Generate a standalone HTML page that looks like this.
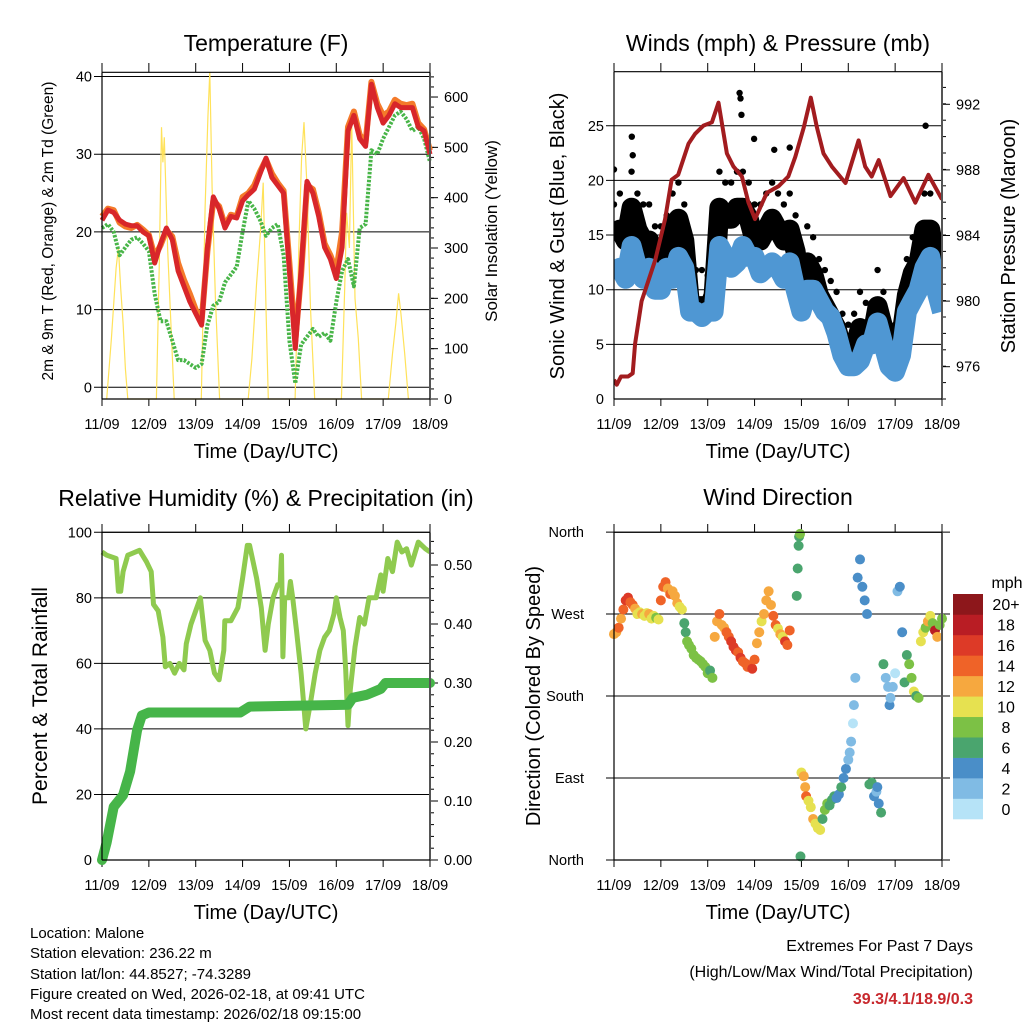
<!DOCTYPE html>
<html><head><meta charset="utf-8"><style>
html,body{margin:0;padding:0;background:#fff}
svg{display:block;font-family:"Liberation Sans",sans-serif}
</style></head><body>
<svg id="fig" xmlns="http://www.w3.org/2000/svg" width="1024" height="1024" viewBox="0 0 1024 1024">
<defs><clipPath id="windclip"><rect x="614" y="71.7" width="328" height="327.3"/></clipPath></defs>
<rect width="1024" height="1024" fill="#fff"/>
<text x="266" y="51" font-size="23" text-anchor="middle">Temperature (F)</text>
<text x="778" y="51" font-size="23" text-anchor="middle">Winds (mph) &amp; Pressure (mb)</text>
<text x="266" y="506" font-size="23" text-anchor="middle">Relative Humidity (%) &amp; Precipitation (in)</text>
<text x="778" y="505" font-size="23" text-anchor="middle">Wind Direction</text>
<text transform="translate(53,231) rotate(-90)" font-size="15.5" text-anchor="middle">2m &amp; 9m T (Red, Orange) &amp; 2m Td (Green)</text>
<text transform="translate(497,231) rotate(-90)" font-size="17" text-anchor="middle">Solar Insolation (Yellow)</text>
<text transform="translate(564,236) rotate(-90)" font-size="20" text-anchor="middle">Sonic Wind &amp; Gust (Blue, Black)</text>
<text transform="translate(1015,236) rotate(-90)" font-size="20" text-anchor="middle">Station Pressure (Maroon)</text>
<text transform="translate(47,696) rotate(-90)" font-size="21" text-anchor="middle">Percent &amp; Total Rainfall</text>
<text transform="translate(540,696) rotate(-90)" font-size="20" text-anchor="middle">Direction (Colored By Speed)</text>
<g font-size="15">
<text x="30" y="938">Location: Malone</text>
<text x="30" y="958">Station elevation: 236.22 m</text>
<text x="30" y="979">Station lat/lon: 44.8527; -74.3289</text>
<text x="30" y="999">Figure created on Wed, 2026-02-18, at 09:41 UTC</text>
<text x="30" y="1019">Most recent data timestamp: 2026/02/18 09:15:00</text>
</g>
<g font-size="16" text-anchor="end">
<text x="973" y="951">Extremes For Past 7 Days</text>
<text x="973" y="977">(High/Low/Max Wind/Total Precipitation)</text>
<text x="973" y="1004" fill="#c8282d" font-weight="bold">39.3/4.1/18.9/0.3</text>
</g>
</svg>
<script>
// ---- data ----
const dayLabels = ["11/09","12/09","13/09","14/09","15/09","16/09","17/09","18/09"];
const t3 = [0,0.125,0.25,0.375,0.5,0.625,0.75,0.875,1,1.125,1.25,1.375,1.5,1.625,1.75,1.875,2,2.125,2.25,2.375,2.5,2.625,2.75,2.875,3,3.125,3.25,3.375,3.5,3.625,3.75,3.875,4,4.125,4.25,4.375,4.5,4.625,4.75,4.875,5,5.125,5.25,5.375,5.5,5.625,5.75,5.875,6,6.125,6.25,6.375,6.5,6.625,6.75,6.875,7];
const temp2m = [21.5,22.8,22.5,21.5,21,20.8,20.8,20,19.5,16,18.5,20.5,19,15,13,11,9.5,8,18,24.5,23,20.5,22,21.8,24,24.8,25.5,27.5,29.5,27,26,25,15,5,15,26.5,25,22,18,16.5,14,18,33,35,32,31,39,36,34,35,36.5,36,36,36,33.5,33,30];
const temp9m = [22,23,22.8,21.2,20.7,20.5,20.9,20.3,19.6,16.8,18.3,20.2,19.4,16,13.8,12,10,8.5,17.5,24,23.3,20.8,22.2,22,24.5,25,26,27.8,29.3,27.5,26.3,25.3,16,6,14.5,26,25.5,22.5,18.5,17,15,20,33.5,35.5,32.5,31.5,39.3,36.5,35,35.5,37,36.5,36.3,36.5,34,33.2,30.5];
const dew2m = [20.5,21,20,17,18,19,19.3,18.5,17.5,12,8.5,8.5,6,3.5,3.5,3,2.5,3,8,10.5,11,13.5,14.5,15.5,20,24,23,21.5,19.5,20.5,21,17,6,0.5,5.5,6.5,7.5,6.5,7,6,11,15,16.5,13,20.5,21,30.5,30,32,33.5,35,35.5,34.5,33,33.5,32,29];
const solarTime = [0.1,0.2,0.3,0.35,0.4,0.45,0.5,0.55, 1.16,1.22,1.27,1.3,1.33,1.4,1.47,1.54, 2.12,2.2,2.26,2.3,2.35,2.42,2.51, 3.12,3.2,3.3,3.38,3.44,3.5,3.55, 4.12,4.2,4.26,4.31,4.37,4.45,4.54, 5.11,5.18,5.22,5.28,5.33,5.4,5.47,5.54, 6.11,6.2,6.27,6.33,6.38,6.46,6.54];
const solarVal = [0,120,260,300,220,150,60,0, 0,260,540,470,520,300,150,0, 0,380,560,650,420,200,0, 0,80,230,330,430,180,0, 0,300,480,550,430,180,0, 0,220,370,300,550,200,120,0, 0,90,150,210,170,90,0];
const windSpd = [11,12,11,14,12,11,12,10,10,12,11,13,12,8,8,7.5,8,8,14,13,12,12.5,14,13,13,11.5,12,12.5,12,11,12.5,10,8,10,10,9,8,7.5,6,4,3,3,3.5,5,5,7,5,3,2.5,4,8,9,10,12,13,10,8];
const gustSpd = [16,17,16,19,17,16,16,14,14,15,17,18,16,10,10,10,9.5,11,19,18,18,19,19,18,16,16,17,18,17,16,17,15,11,14,13,11,10,9,8,6,5,6,8,7,7,10,8,5,5,7,11,13,14,17,17,14,11];
const peakGustTime = [0,0.38,0.4,2.68,2.7,2.72,2.99,3.42,3.75,6.65];
const peakGust = [21,24,22.3,28,27.5,26,23.8,22.8,23,25];
const presTime = [0,0.06,0.15,0.3,0.4,0.45,0.59,0.88,1.09,1.23,1.37,1.59,1.73,1.91,2.09,2.23,2.41,2.55,2.73,2.87,3.01,3.26,3.51,3.72,3.87,4.05,4.2,4.33,4.47,4.65,4.94,5.22,5.36,5.5,5.65,5.9,6.18,6.43,6.71,7];
const presVal = [975.2,974.9,975.4,975.4,975.6,977.4,980,982.5,985,987.4,987.7,989.6,990.2,990.7,990.9,992.1,989,988.2,987.6,986,985,986.6,987,987.6,988.8,990.6,992.4,990.6,989,988.2,987.2,989.8,988.2,987.6,988.6,986.4,987.5,986,987.7,986.2];
const rhTime = [0,0.1,0.3,0.35,0.4,0.45,0.55,0.8,0.95,1.05,1.1,1.2,1.3,1.35,1.45,1.55,1.65,1.75,1.8,1.9,2,2.1,2.2,2.3,2.4,2.5,2.6,2.62,2.75,2.9,3,3.1,3.15,3.3,3.4,3.48,3.55,3.65,3.75,3.8,3.83,3.86,3.9,3.98,4.02,4.07,4.15,4.25,4.35,4.45,4.55,4.65,4.75,4.85,4.95,5,5.08,5.15,5.2,5.25,5.3,5.4,5.5,5.6,5.7,5.85,5.95,6,6.1,6.2,6.3,6.4,6.5,6.6,6.75,6.9,7];
const rhVal = [94,93,92,82,82,88,93,94.5,91,88,78,76,68,59,60,57,60,58,66,72,76,80,67,64,57,55,64,73,73,77,86,96,96,86,77,64,72,80,84,84,93,62,80,80,85,80,70,57,40,48,57,64,68,70,75,80,74,70,58,41,52,65,74,72,80,80,87,82,92,88,97,94,95,90,97,95,94];
const rainTime = [0,0.1,0.25,0.45,0.6,0.75,0.85,1,2.95,3.15,5.25,5.35,5.65,5.95,6.05,7];
const rainVal = [0,0.03,0.09,0.11,0.15,0.22,0.245,0.25,0.25,0.26,0.263,0.275,0.28,0.29,0.3,0.3];
const dirTime = [0.0,0.05,0.1,0.15,0.2,0.25,0.3,0.35,0.4,0.45,0.5,0.55,0.6,0.65,0.7,0.75,0.8,0.85,0.9,0.95,1.0,1.05,1.1,1.15,1.2,1.25,1.3,1.35,1.4,1.45,1.5,1.53,1.56,1.6,1.65,1.7,1.75,1.8,1.85,1.9,1.95,2.0,2.05,2.1,2.15,2.2,2.25,2.3,2.35,2.4,2.45,2.5,2.55,2.6,2.65,2.7,2.75,2.8,2.85,2.9,2.95,3.0,3.05,3.1,3.15,3.2,3.25,3.3,3.35,3.4,3.45,3.5,3.55,3.6,3.65,3.7,3.75,3.9,3.92,3.94,3.95,3.97,3.98,4.0,4.05,4.08,4.1,4.15,4.2,4.25,4.3,4.35,4.4,4.45,4.5,4.55,4.6,4.65,4.7,4.75,4.8,4.85,4.9,4.95,5.0,5.03,5.06,5.1,5.12,5.15,5.2,5.25,5.3,5.35,5.4,5.45,5.5,5.55,5.6,5.62,5.65,5.7,5.75,5.8,5.85,5.88,5.9,5.95,6.0,6.05,6.1,6.15,6.2,6.25,6.3,6.35,6.4,6.45,6.5,6.55,6.6,6.65,6.7,6.75,6.8,6.85,6.9,6.95,7.0];
const dirDeg = [248,250,255,265,275,285,288,283,280,276,270,272,270,268,271,270,265,268,266,264,285,300,305,298,292,295,290,282,278,275,260,250,240,236,232,225,222,220,218,215,212,205,208,200,245,262,270,258,255,250,245,240,234,230,228,222,218,216,212,214,210,220,238,250,262,270,285,295,280,268,258,254,248,245,240,236,252,290,320,345,355,358,4,96,92,80,70,65,58,45,40,35,33,45,55,62,60,66,70,68,72,80,90,100,110,118,130,150,170,200,310,330,300,285,270,83,85,70,75,80,62,52,215,200,190,170,178,190,205,295,300,250,195,225,215,200,185,180,178,240,250,255,262,268,260,252,245,258,265,262,258,252,248,255];
const dirSpd = [12,12,14,13,15,16,16,14,15,13,11,10,12,11,11,13,10,10,9,10,14,15,14,13,14,12,13,12,11,10,7,7,8,8,8,8,8,8,8,8,8,8,7,8,12,13,14,12,13,15,14,16,17,16,15,16,14,15,15,14,16,15,13,12,11,12,12,12,13,14,15,10,13,11,16,15,14,7,7,6,7,9,6,11,13,12,14,10,11,12,10,11,10,7,8,8,7,7,6,5,5,6,4,5,3,2,2,1,2,3,4,5,4,5,4,6,6,5,3,5,5,6,7,3,3,4,2,3,1,3,4,4,6,7,8,9,11,7,9,10,11,8,12,10,9,19,12,8,9,10,11,7];
const binLabels = ["0","2","4","6","8","10","12","14","16","18","20+"];
const binColors = ["#b6e3f7","#80bbe4","#4a8ec8","#4aa56e","#7cc145","#e6e150","#f6a83f","#ef6328","#dd3a27","#b91d24","#8d171b"];

// ---- helpers ----
const NS = "http://www.w3.org/2000/svg";
const svg = document.getElementById("fig");
function mk(tag, attrs, parent) {
  const e = document.createElementNS(NS, tag);
  for (const k in attrs) e.setAttribute(k, attrs[k]);
  (parent || svg).appendChild(e);
  return e;
}
function pathOf(ts, vs, fx, fy) {
  return ts.map((t, i) => (i ? "L" : "M") + fx(t).toFixed(1) + "," + fy(vs[i]).toFixed(1)).join("");
}
function axisX(x0, x1) { return d => x0 + d / 7 * (x1 - x0); }

function frame(x0, x1, top, bot, name, tickTop) {
  const g = mk("g", {});
  
  
  const fx = axisX(x0, x1);
  for (let d = 0; d <= 7; d++) {
    const x = fx(d);
    mk("line", {x1: x, x2: x, y1: bot, y2: bot + 7, stroke: "#000", "stroke-width": 1}, g);
    mk("line", {x1: x, x2: x, y1: top, y2: tickTop, stroke: "#000", "stroke-width": 1}, g);
    const tl = mk("text", {x: x, y: bot + 30, "font-size": 14.5, "text-anchor": "middle"}, g);
    tl.textContent = dayLabels[d];
    
    
  }
  const xt = mk("text", {x: (x0 + x1) / 2, y: bot + 59, "font-size": 20, "text-anchor": "middle"}, g);
  xt.textContent = "Time (Day/UTC)";
  
  
  return {g, fx};
}
function hgrid(g, y, x0, x1) {
  mk("line", {x1: x0 - 8, x2: x1, y1: y, y2: y, stroke: "#000", "stroke-width": 1}, g);
}
function ylab(g, x, y, txt, anchor) {
  const t = mk("text", {x: x, y: y + 5, "font-size": 14.5, "text-anchor": anchor}, g);
  t.textContent = txt;
  
  
}
function boxLines(g, x0, x1, top, bot) {
  mk("line", {x1: x0, x2: x0, y1: top, y2: bot, stroke: "#000", "stroke-width": 1.2}, g);
  mk("line", {x1: x1, x2: x1, y1: top, y2: bot, stroke: "#555", "stroke-width": 2}, g);
  mk("line", {x1: x0, x2: x1, y1: top, y2: top, stroke: "#000", "stroke-width": 1.2}, g);
  mk("line", {x1: x0, x2: x1, y1: bot, y2: bot, stroke: "#000", "stroke-width": 1.2}, g);
}
function rticks(g, x1, top, bot, step) {
  for (let y = bot; y >= top; y -= step) mk("line", {x1: x1, x2: x1 + 4, y1: y, y2: y, stroke: "#000", "stroke-width": 1}, g);
}

// ---- Panel 1: Temperature ----
(function () {
  const L = 102, R = 430, T = 72.3, B = 399;
  const {g, fx} = frame(L, R, T, B, "temperature-panel", 63);
  const ty = v => 387.3 - v * 7.77;
  const sy = v => 399 - v * 0.5033;
  [0, 10, 20, 30, 40].forEach(v => { hgrid(g, ty(v), L, R); ylab(g, L - 10, ty(v), String(v), "end"); });
  [0, 100, 200, 300, 400, 500, 600].forEach(v => { mk("line", {x1: R, x2: R + 8, y1: sy(v), y2: sy(v), stroke: "#000"}, g); ylab(g, R + 14, sy(v), String(v), "start"); });
  rticks(g, R, T, B, 0.5033 * 20);
  const sol = mk("path", {d: pathOf(solarTime, solarVal, fx, sy), fill: "none", stroke: "#ffe25a", "stroke-width": 1.2}, g);
  
  
  const dw = mk("path", {d: pathOf(t3, dew2m, fx, ty), fill: "none", stroke: "#48b548", "stroke-width": 4, "stroke-dasharray": "2.5 1.5", "stroke-linejoin": "round"}, g);
  
  
  const t9 = mk("path", {d: pathOf(t3, temp9m, fx, ty), fill: "none", stroke: "#f47a2a", "stroke-width": 6, "stroke-linejoin": "round"}, g);
  
  
  const t2 = mk("path", {d: pathOf(t3, temp2m, fx, ty), fill: "none", stroke: "#d8262a", "stroke-width": 5, "stroke-linejoin": "round"}, g);
  
  
  boxLines(g, L, R, T, B);
})();

// ---- Panel 2: Winds & Pressure ----
(function () {
  const L = 614, R = 942, T = 71.7, B = 399;
  const {g, fx} = frame(L, R, T, B, "winds-panel", 63);
  const wy = v => 399 - v * 10.93;
  const py = p => 366.7 - (p - 976) * 16.4;
  [5, 10, 15, 20, 25].forEach(v => hgrid(g, wy(v), L, R));
  [0, 5, 10, 15, 20, 25].forEach(v => ylab(g, L - 10, wy(v), String(v), "end"));
  [976, 980, 984, 988, 992].forEach(v => { mk("line", {x1: R, x2: R + 8, y1: py(v), y2: py(v), stroke: "#000"}, g); ylab(g, R + 14, py(v), String(v), "start"); });
  rticks(g, R, T, B, 16.4);
  const cg = mk("g", {"clip-path": "url(#windclip)"}, g);
  
  
  const gl = mk("path", {d: pathOf(t3, gustSpd, fx, v => wy(v - 1.5)), fill: "none", stroke: "#000", "stroke-width": 20, "stroke-linejoin": "round"}, cg);
  
  
  t3.forEach((t, i) => {
    const c = mk("circle", {cx: fx(t), cy: wy(gustSpd[i] + 1.8), r: 3.2, fill: "#000"}, cg);
    
    
  });
  peakGustTime.forEach((t, i) => {
    const c = mk("circle", {cx: fx(t), cy: wy(peakGust[i]), r: 3.2, fill: "#000"}, cg);
    
    
  });
  const wl = mk("path", {d: pathOf(t3, windSpd, fx, wy), fill: "none", stroke: "#4f97d3", "stroke-width": 20, "stroke-linejoin": "round"}, cg);
  
  
  const pl = mk("path", {d: pathOf(presTime, presVal, fx, py), fill: "none", stroke: "#a21c1f", "stroke-width": 4, "stroke-linejoin": "round"}, cg);
  
  
  boxLines(g, L, R, T, B);
})();

// ---- Panel 3: RH & Precip ----
(function () {
  const L = 102, R = 430, T = 532.3, B = 860;
  const {g, fx} = frame(L, R, T, B, "humidity-panel", 524);
  const hy = v => 860 - v * 3.277;
  const ry = v => 860 - v * 590;
  [20, 40, 60, 80, 100].forEach(v => hgrid(g, hy(v), L, R));
  [0, 20, 40, 60, 80, 100].forEach(v => ylab(g, L - 10, hy(v), String(v), "end"));
  [0, 0.1, 0.2, 0.3, 0.4, 0.5].forEach(v => { mk("line", {x1: R, x2: R + 8, y1: ry(v), y2: ry(v), stroke: "#000"}, g); ylab(g, R + 14, ry(v), v.toFixed(2), "start"); });
  rticks(g, R, T, B, 11.8);
  const rh = mk("path", {d: pathOf(rhTime, rhVal, fx, hy), fill: "none", stroke: "#8fca4f", "stroke-width": 5, "stroke-linejoin": "round"}, g);
  
  
  const pr = mk("path", {d: pathOf(rainTime, rainVal, fx, ry), fill: "none", stroke: "#46b549", "stroke-width": 10, "stroke-linejoin": "round", "stroke-linecap": "round"}, g);
  
  
  boxLines(g, L, R, T, B);
})();

// ---- Panel 4: Wind direction ----
(function () {
  const L = 614, R = 942, T = 532.3, B = 860;
  const {g, fx} = frame(L, R, T, B, "wind-direction-panel", 524);
  const dy = d => 860 - d * 0.9109;
  const names = ["North", "East", "South", "West", "North"];
  [0, 90, 180, 270, 360].forEach((v, i) => {
    mk("line", {x1: L - 8, x2: R + 8, y1: dy(v), y2: dy(v), stroke: "#000", "stroke-width": 1}, g);
    ylab(g, L - 30, dy(v), names[i], "end");
  });
  const bin = s => Math.min(10, Math.max(0, Math.floor(s / 2)));
  dirTime.forEach((t, i) => {
    const c = mk("circle", {cx: fx(t), cy: dy(dirDeg[i]), r: 5, fill: binColors[bin(dirSpd[i])]}, g);
    
    
  });
  boxLines(g, L, R, T, B);
  const cb = mk("g", {});
  
  
  const cbTop = 594, cbBot = 819, h = (cbBot - cbTop) / binColors.length;
  binColors.forEach((c, i) => {
    const y = cbBot - (i + 1) * h;
    const r = mk("rect", {x: 953, y: y, width: 30, height: h + 0.3, fill: c}, cb);
    
    
    const tx = mk("text", {x: 1006, y: y + h / 2 + 6, "font-size": 16, "text-anchor": "middle"}, cb);
    tx.textContent = binLabels[i];
    
    
  });
  const u = mk("text", {x: 1007, y: 588, "font-size": 16, "text-anchor": "middle"}, cb);
  u.textContent = "mph";
  
  
})();
</script>
</body></html>
